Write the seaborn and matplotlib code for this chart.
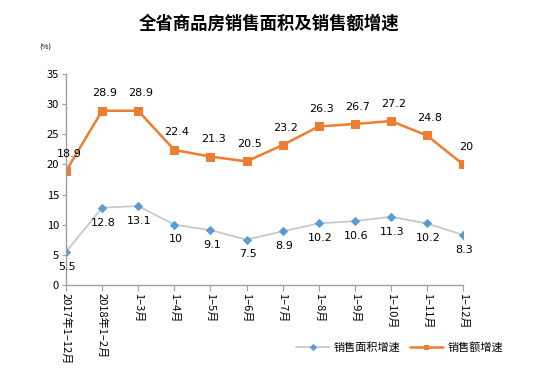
import pandas as pd
import matplotlib
matplotlib.use("Agg")
import matplotlib.pyplot as plt
import seaborn as sns

# 数据
months = ["2017年1–12月", "2018年1–2月", "1–3月", "1–4月", "1–5月", "1–6月",
          "1–7月", "1–8月", "1–9月", "1–10月", "1–11月", "1–12月"]
area_growth = [5.5, 12.8, 13.1, 10, 9.1, 7.5, 8.9, 10.2, 10.6, 11.3, 10.2, 8.3]
sales_growth = [18.9, 28.9, 28.9, 22.4, 21.3, 20.5, 23.2, 26.3, 26.7, 27.2, 24.8, 20]
area_labels = ["5.5", "12.8", "13.1", "10", "9.1", "7.5", "8.9", "10.2", "10.6", "11.3", "10.2", "8.3"]
sales_labels = ["18.9", "28.9", "28.9", "22.4", "21.3", "20.5", "23.2", "26.3", "26.7", "27.2", "24.8", "20"]

sns.set_style("white")
plt.rcParams['font.family'] = ['Noto Sans CJK SC', 'DejaVu Sans']
plt.rcParams['text.color'] = 'black'
plt.rcParams['xtick.color'] = 'black'
plt.rcParams['ytick.color'] = 'black'

df = pd.DataFrame({"x": range(len(months)), "area": area_growth, "sales": sales_growth})

fig = plt.figure(figsize=(5.5, 3.71), dpi=100)
ax = fig.add_axes([0.12, 0.232, 0.722, 0.5685])

sns.lineplot(x="x", y="area", data=df, ax=ax, color="#C8C8C8", linewidth=1.3,
             marker="D", markersize=4.5, markerfacecolor="#5B9BD5", markeredgecolor="#5B9BD5",
             label="销售面积增速")
sns.lineplot(x="x", y="sales", data=df, ax=ax, color="#ED7D31", linewidth=1.8,
             marker="s", markersize=6, markerfacecolor="#ED7D31", markeredgecolor="#ED7D31",
             label="销售额增速")

for i in range(len(months)):
    ax.annotate(sales_labels[i], (i, sales_growth[i]), xytext=(2, 9), textcoords="offset points",
                ha="center", va="bottom", fontsize=8, family="DejaVu Sans")
    ax.annotate(area_labels[i], (i, area_growth[i]), xytext=(1, -7), textcoords="offset points",
                ha="center", va="top", fontsize=8, family="DejaVu Sans")

ax.set_xlim(0, 11)
ax.set_ylim(0, 35)
ax.set_yticks(range(0, 36, 5))
ax.set_xticks(range(len(months)))
ax.set_xticklabels(months, rotation=-90, va="top", ha="center", fontsize=8)
ax.tick_params(axis="y", labelsize=8, length=3, direction="out", left=True, color="#A0A0A0", pad=2)
ax.tick_params(axis="x", length=4, direction="out", bottom=True, color="#A0A0A0", pad=2)
ax.set_xlabel("")
ax.set_ylabel("")

for s in ["top", "right"]:
    ax.spines[s].set_visible(False)
for s in ["left", "bottom"]:
    ax.spines[s].set_color("#A0A0A0")
    ax.spines[s].set_linewidth(1)

fig.text(0.49, 0.935, "全省商品房销售面积及销售额增速", ha="center", va="center",
         fontsize=12.5, fontweight="bold")
fig.text(0.082, 0.873, "(%)", ha="center", va="center", fontsize=5.5)

leg = ax.legend(loc="center", bbox_to_anchor=(0.84, -0.295), ncol=2, frameon=False,
                fontsize=8, handlelength=3, columnspacing=0.8, handletextpad=0.4)
for h in leg.legend_handles:
    h.set_markersize(3)

fig.savefig("out.png", dpi=100)
